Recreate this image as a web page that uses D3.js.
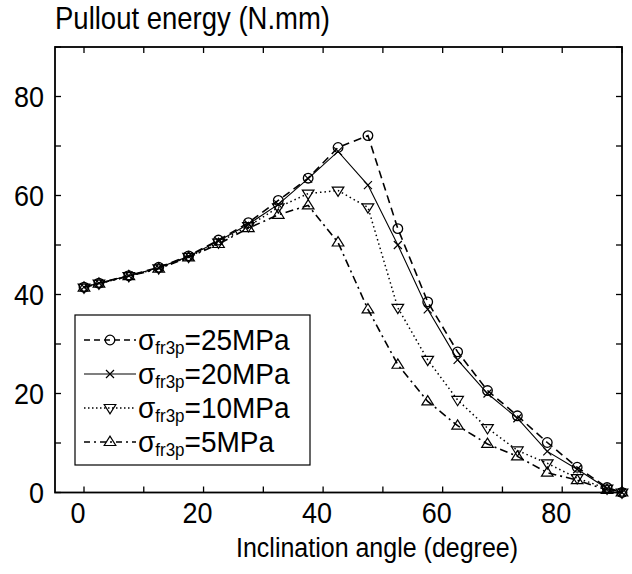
<!DOCTYPE html>
<html>
<head>
<meta charset="utf-8">
<script src="https://cdn.jsdelivr.net/npm/d3@7"></script>
<style>
  body { margin: 0; background: #fff; }
  svg text { font-family: "Liberation Sans", Arial, Helvetica, sans-serif; fill: #000; }
</style>
</head>
<body>
<svg id="chart" width="632" height="574"></svg>
<script>
// inclination angles (degree)
var angles = [0, 2.5, 7.5, 12.5, 17.5, 22.5, 27.5, 32.5, 37.5, 42.5, 47.5, 52.5, 57.5, 62.5, 67.5, 72.5, 77.5, 82.5, 87.5, 90];

// pullout energy (N.mm) for each sigma_fr3p
var energy25 = [41.5, 42.3, 43.8, 45.5, 47.8, 51.0, 54.5, 59.0, 63.5, 69.7, 72.1, 53.3, 38.5, 28.4, 20.6, 15.5, 10.1, 5.1, 1.0, 0];
var energy20 = [41.5, 42.3, 43.8, 45.4, 47.7, 50.8, 54.2, 58.2, 63.4, 68.9, 62.1, 50.0, 37.0, 26.8, 20.0, 15.0, 8.3, 4.7, 0.8, 0];
var energy10 = [41.4, 42.2, 43.7, 45.3, 47.6, 50.5, 53.8, 57.6, 60.4, 61.0, 57.6, 37.3, 26.8, 18.7, 13.0, 8.5, 5.9, 2.9, 0.8, 0];
var energy5  = [41.4, 42.2, 43.7, 45.2, 47.5, 50.2, 53.4, 56.1, 58.0, 50.5, 37.0, 25.8, 18.4, 13.5, 9.8, 7.3, 4.0, 2.5, 0.5, 0];

var seriesNames = ["25MPa", "20MPa", "10MPa", "5MPa"];
var xTicks = [0, 10, 20, 30, 40, 50, 60, 70, 80, 90];
var yTicks = [0, 10, 20, 30, 40, 50, 60, 70, 80, 90];
var xLabels = [0, 20, 40, 60, 80];
var yLabels = [0, 20, 40, 60, 80];

var styles = [
  {dash: "8,5", legendDash: "6,4", width: 1.6, marker: "circle"},
  {dash: null, legendDash: null, width: 1.1, marker: "cross"},
  {dash: "1.5,3", legendDash: "1.5,2.5", width: 1.5, marker: "down"},
  {dash: "8,4,2,4", legendDash: "6,4,2,4", width: 1.6, marker: "up"}
];
var allValues = [energy25, energy20, energy10, energy5];

var svg = d3.select("#chart");
var m_left = 55, m_right = 622, m_top = 47, m_bottom = 492.5;
var tickLen = 6;
var stretch = 1.12; // the original text is a bit tall

var x = d3.scaleLinear().domain([0, 90]).range([84, m_right]);
var y = d3.scaleLinear().domain([0, 90]).range([m_bottom, m_top]);

// frame
svg.append("rect")
  .attr("x", m_left).attr("y", m_top)
  .attr("width", m_right - m_left).attr("height", m_bottom - m_top)
  .attr("fill", "none").attr("stroke", "#000").attr("stroke-width", 1.8);

// ticks on all four sides, pointing inwards
var g_ticks = svg.append("g").attr("stroke", "#000").attr("stroke-width", 1.3);
xTicks.forEach(function(t) {
  g_ticks.append("line").attr("x1", x(t)).attr("x2", x(t)).attr("y1", m_bottom).attr("y2", m_bottom - tickLen);
  g_ticks.append("line").attr("x1", x(t)).attr("x2", x(t)).attr("y1", m_top).attr("y2", m_top + tickLen);
});
yTicks.forEach(function(t) {
  g_ticks.append("line").attr("x1", m_left).attr("x2", m_left + tickLen).attr("y1", y(t)).attr("y2", y(t));
  g_ticks.append("line").attr("x1", m_right).attr("x2", m_right - tickLen).attr("y1", y(t)).attr("y2", y(t));
});

// tick labels
svg.selectAll("text.xlab").data(xLabels).enter().append("text")
  .attr("class", "xlab")
  .attr("transform", function(d) { return "translate(" + (x(d) - 6) + ",523) scale(1," + stretch + ")"; })
  .attr("text-anchor", "middle")
  .style("font-size", "27px")
  .text(function(d) { return d; });

svg.selectAll("text.ylab").data(yLabels).enter().append("text")
  .attr("class", "ylab")
  .attr("transform", function(d) { return "translate(44," + (y(d) + 10.5) + ") scale(1," + stretch + ")"; })
  .attr("text-anchor", "end")
  .style("font-size", "27px")
  .text(function(d) { return d; });

// axis titles
svg.append("text")
  .attr("transform", "translate(55,29) scale(1," + stretch + ")")
  .style("font-size", "27.5px")
  .text("Pullout energy (N.mm)");

svg.append("text")
  .attr("transform", "translate(236,557) scale(1," + stretch + ")")
  .style("font-size", "25px")
  .text("Inclination angle (degree)");

function drawMarker(g, kind, cx, cy) {
  if (kind == "circle") {
    g.append("circle").attr("cx", cx).attr("cy", cy).attr("r", 4.8)
      .attr("fill", "none").attr("stroke", "#000").attr("stroke-width", 1.3);
  } else if (kind == "cross") {
    var s = 4;
    g.append("path")
      .attr("d", "M" + (cx - s) + "," + (cy - s) + "L" + (cx + s) + "," + (cy + s) +
                 "M" + (cx - s) + "," + (cy + s) + "L" + (cx + s) + "," + (cy - s))
      .attr("stroke", "#000").attr("stroke-width", 1.2).attr("fill", "none");
  } else {
    var h = 5.8, w = 5.8;
    var dir = (kind == "down") ? 1 : -1;
    g.append("path")
      .attr("d", "M" + (cx - w) + "," + (cy - dir * h * 0.6) +
                 "L" + (cx + w) + "," + (cy - dir * h * 0.6) +
                 "L" + cx + "," + (cy + dir * h) + "Z")
      .attr("stroke", "#000").attr("stroke-width", 1.2).attr("fill", "none");
  }
}

// curves
var line = d3.line()
  .x(function(d) { return x(d[0]); })
  .y(function(d) { return y(d[1]); });

allValues.forEach(function(vals, i) {
  var st = styles[i];
  var pts = angles.map(function(a, j) { return [a, vals[j]]; });
  var g = svg.append("g").attr("class", "series");
  g.append("path")
    .datum(pts)
    .attr("d", line)
    .attr("fill", "none")
    .attr("stroke", "#000")
    .attr("stroke-width", st.width)
    .attr("stroke-dasharray", st.dash);
  pts.forEach(function(p) { drawMarker(g, st.marker, x(p[0]), y(p[1])); });
});

// legend
var lg = svg.append("g").attr("class", "legend");
lg.append("rect")
  .attr("x", 75).attr("y", 315).attr("width", 235).attr("height", 150)
  .attr("fill", "#fff").attr("stroke", "#000").attr("stroke-width", 1.2);

seriesNames.forEach(function(name, i) {
  var st = styles[i];
  var ly = 340 + i * 34;
  lg.append("line")
    .attr("x1", 84).attr("x2", 136).attr("y1", ly).attr("y2", ly)
    .attr("stroke", "#000").attr("stroke-width", st.width)
    .attr("stroke-dasharray", st.legendDash);
  drawMarker(lg, st.marker, 110, ly);
  var t = lg.append("text")
    .attr("transform", "translate(138," + (ly + 10) + ") scale(1,1.06)")
    .style("font-size", "28px");
  t.append("tspan").text("σ");
  t.append("tspan").attr("dy", 4).style("font-size", "17px").text("fr3p");
  t.append("tspan").attr("dy", -4).text("=" + name);
});
</script>
</body>
</html>
